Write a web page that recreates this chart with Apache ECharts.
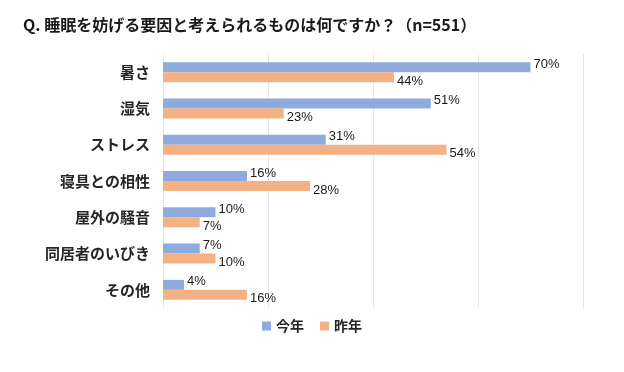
<!DOCTYPE html>
<html><head><meta charset="utf-8">
<script src="https://cdn.jsdelivr.net/npm/echarts@6/dist/echarts.min.js"></script>
<style>html,body{margin:0;padding:0;background:#fff}#c{width:624px;height:372px}</style>
</head><body><div id="c"></div>
<script>
const categories = ['暑さ','湿気','ストレス','寝具との相性','屋外の騒音','同居者のいびき','その他'];
const thisYear = [70,51,31,16,10,7,4];
const lastYear = [44,23,54,28,7,10,16];
const seriesNames = ['今年','昨年'];
const titleText = 'Q. 睡眠を妨げる要因と考えられるものは何ですか？（n=551）';

const chart = echarts.init(document.getElementById('c'));
const jp = '"Noto Sans CJK JP", sans-serif';
const num = '"Liberation Sans Narrow", "Liberation Sans", sans-serif';
chart.setOption({
  animation:false,
  title:{text:titleText,left:18,top:12,textStyle:{fontFamily:jp,fontSize:16,fontWeight:'bold',color:'#1a1a1a'}},
  legend:{data:seriesNames,bottom:34,left:'center',itemWidth:9,itemHeight:9,itemGap:16,icon:'rect',
    textStyle:{fontFamily:jp,fontSize:14,fontWeight:'bold',color:'#262626'}},
  grid:{left:163,right:41,top:54,bottom:64},
  xAxis:{type:'value',min:0,max:80,interval:20,axisLabel:{show:false},
    splitLine:{lineStyle:{color:'#e6e6e6'}},axisLine:{show:false},axisTick:{show:false}},
  yAxis:{type:'category',data:categories,inverse:true,
    axisLine:{show:true,lineStyle:{color:'#e6e6e6'}},axisTick:{show:false},
    axisLabel:{fontFamily:jp,fontSize:15,fontWeight:'bold',color:'#262626',margin:13}},
  series:[
    {name:seriesNames[0],type:'bar',data:thisYear,barWidth:10,barGap:'0%',itemStyle:{color:'#8faadc'},
      label:{show:true,position:'right',distance:3,offset:[0,-3],formatter:'{c}%',fontFamily:num,fontSize:13,color:'#1a1a1a'}},
    {name:seriesNames[1],type:'bar',data:lastYear,barWidth:10,itemStyle:{color:'#f4b183'},
      label:{show:true,position:'right',distance:3,offset:[0,4],formatter:'{c}%',fontFamily:num,fontSize:13,color:'#1a1a1a'}}
  ]
});
</script></body></html>
